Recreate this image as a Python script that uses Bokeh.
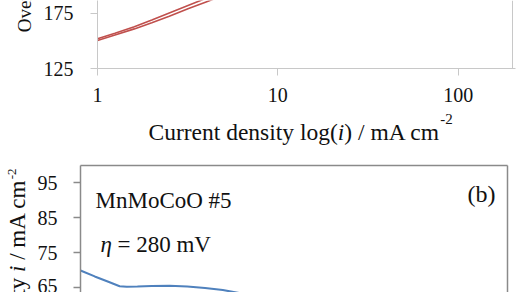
import math
from bokeh.plotting import figure
from bokeh.models import LinearAxis, FixedTicker, Range1d, LinearScale, Span
from bokeh.core.properties import value
from bokeh.layouts import column, row
from bokeh.embed import file_html
from bokeh.resources import INLINE

# ---- data ----
tafel_i_a = [1.0, 1.25, 1.6, 2.0, 2.5, 3.2, 4.0, 5.0, 6.0]
tafel_eta_a = [152.0, 157.0, 163.0, 169.0, 175.5, 182.5, 188.8, 194.5, 199.5]
tafel_i_b = [1.0, 1.25, 1.6, 2.0, 2.5, 3.2, 4.0, 5.0, 6.0]
tafel_eta_b = [150.5, 155.5, 161.0, 166.5, 172.5, 179.5, 185.5, 191.5, 196.0]
top_x_ticks = [1, 10, 100]
top_x_max = 200
top_y_ticks = [125, 175, 225]

time_h = [0, 0.4, 0.8, 1.1, 1.3, 1.6, 2.0, 2.5, 3.0, 3.5, 4.0, 4.5, 5.0, 6.0]
current_ma = [70.0, 68.3, 66.7, 65.5, 65.35, 65.45, 65.6, 65.65, 65.45, 65.0, 64.4, 63.5, 62.5, 60.5]
bottom_y_ticks = [55, 65, 75, 85, 95]

FONT = "Liberation Serif"
INK = "#111111"
W = {'C': 667, 'u': 500, 'r': 333, 'e': 444, 'n': 500, 't': 278, ' ': 250, 'd': 500,
     's': 389, 'i': 278, 'y': 500, 'l': 278, 'o': 500, 'g': 500, '(': 333, ')': 333,
     '/': 278, 'm': 778, 'A': 722, 'c': 444, '-': 333, '2': 500}


def tw(s, size):
    return sum(W.get(ch, 500) for ch in s) * size / 1000.0


def style_axis(ax, color, width=1):
    ax.axis_line_color = color
    ax.axis_line_width = width
    ax.major_tick_line_color = color
    ax.major_tick_line_width = width
    ax.major_tick_out = 7
    ax.major_tick_in = 0
    ax.minor_tick_line_color = None
    ax.minor_tick_out = 0
    ax.minor_tick_in = 0
    ax.major_label_text_font = FONT
    ax.major_label_text_font_size = "20px"
    ax.major_label_text_color = INK


def border_axis(color, width):
    ax = LinearAxis(ticker=FixedTicker(ticks=[]))
    ax.axis_line_color = color
    ax.axis_line_width = width
    ax.major_tick_line_color = None
    ax.minor_tick_line_color = None
    ax.major_tick_out = 0
    ax.major_tick_in = 0
    ax.minor_tick_out = 0
    ax.minor_tick_in = 0
    ax.major_label_standoff = 0
    ax.axis_label_standoff = 0
    ax.major_label_text_font_size = "0px"
    return ax


def txt(p, x, y, s, size, style="normal", align="left", angle=0.0):
    p.text(x=[x], y=[y], text=[s], x_range_name="px", y_range_name="py",
           text_font=value(FONT), text_font_size=value(f"{size}px"),
           text_font_style=style, text_color=INK, text_align=align,
           text_baseline="alphabetic", angle=angle, level="overlay")


# ---- top panel: frame at canvas x 97..515 (border drawn at x=200), y 0..68 ----
x_end = 10 ** (418 / (415 / math.log10(top_x_max)))
p1 = figure(width=520, height=150, x_axis_type="log",
            x_range=Range1d(1, x_end), y_range=Range1d(125, 186.8),
            output_backend="svg", toolbar_location=None,
            min_border_left=97, min_border_right=5, min_border_top=0, min_border_bottom=82)
p1.frame_align = False
p1.extra_x_ranges = {"px": Range1d(97, 515)}
p1.extra_y_ranges = {"py": Range1d(68, 0)}
p1.extra_x_scales = {"px": LinearScale()}
p1.extra_y_scales = {"py": LinearScale()}
p1.outline_line_color = None
p1.grid.visible = False
style_axis(p1.xaxis[0], "#c8c8c8")
style_axis(p1.yaxis[0], "#c8c8c8")
p1.xaxis[0].ticker = FixedTicker(ticks=top_x_ticks)
p1.xaxis[0].major_label_overrides = {t: str(t) for t in top_x_ticks}
p1.xaxis[0].major_label_standoff = 12
p1.yaxis[0].ticker = FixedTicker(ticks=top_y_ticks)
p1.yaxis[0].major_label_standoff = 17
p1.add_layout(Span(location=top_x_max, dimension="height", line_color="#c8c8c8", line_width=1))

p1.line(tafel_i_a, tafel_eta_a, line_color="#c0504d", line_width=1.6)
p1.line(tafel_i_b, tafel_eta_b, line_color="#c0504d", line_width=1.6)

# y label (mostly cropped at the top edge)
txt(p1, 24, 31.7, "Overpotential η / mV", 19, angle=math.pi / 2)

# x label pieces
xs = 148.0
fs = 23.5
for s, st in [("Current density log(", "normal"), ("i", "italic"), (") / mA cm", "normal")]:
    txt(p1, xs, 131, s, fs, st)
    xs += tw(s, fs)
txt(p1, xs, 118, "-2", 15)

# ---- bottom panel: frame at canvas x 80..507, y 15..142 of its own canvas ----
p2 = figure(width=520, height=142, x_range=Range1d(0, 12), y_range=Range1d(63.714, 100),
            x_axis_location=None, output_backend="svg", toolbar_location=None,
            min_border_left=80, min_border_right=13, min_border_top=15, min_border_bottom=0)
p2.frame_align = False
p2.extra_x_ranges = {"px": Range1d(80, 507)}
p2.extra_y_ranges = {"py": Range1d(142, 15)}
p2.extra_x_scales = {"px": LinearScale()}
p2.extra_y_scales = {"py": LinearScale()}
p2.outline_line_color = None
p2.grid.visible = False
style_axis(p2.yaxis[0], "#8a8a8a", 1.5)
p2.yaxis[0].ticker = FixedTicker(ticks=bottom_y_ticks)
p2.yaxis[0].major_label_standoff = 16
p2.add_layout(border_axis("#8a8a8a", 1.5), "above")
p2.add_layout(border_axis("#8a8a8a", 1.5), "right")

p2.line(time_h, current_ma, line_color="#4f81bd", line_width=2)

# in-panel texts (canvas coords of p2: y measured from p2 top)
txt(p2, 95, 50, "MnMoCoO #5", 23)
txt(p2, 100, 94, "η", 23, "italic")
txt(p2, 117, 94, "= 280 mV", 23)
txt(p2, 495, 43, "(b)", 24, align="right")

# rotated y label, built from its end backwards
fy = 23.0
ye = 18.0
txt(p2, 11, ye, "-2", 13, align="right", angle=math.pi / 2)
ye += tw("-2", 13)
txt(p2, 17, ye, "/ mA cm", fy, align="right", angle=math.pi / 2)
ye += tw("/ mA cm", fy) + tw(" ", fy)
txt(p2, 17, ye, "i", fy, "italic", align="right", angle=math.pi / 2)
ye += tw("i", fy) + tw(" ", fy)
txt(p2, 17, ye, "Current density", fy, align="right", angle=math.pi / 2)

layout = column(row(p1), row(p2), spacing=0)
open("out.html", "w").write(file_html(layout, INLINE))
